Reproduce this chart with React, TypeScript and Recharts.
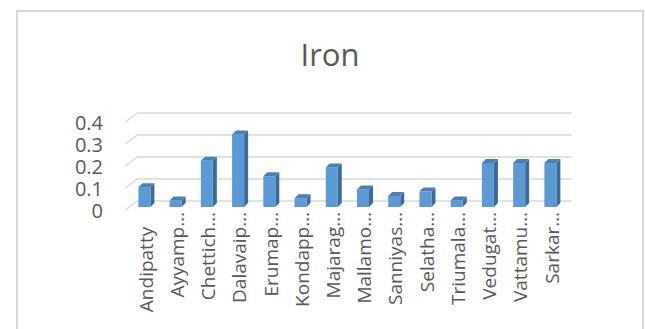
import React from 'react';
import { BarChart, Bar, XAxis, YAxis, CartesianGrid } from 'recharts';

// villages (long names are cut the way the spreadsheet axis shows them)
const villages = [
  'Andipatty\u00a0\u00a0\u00a0',
  'Ayyamp…',
  'Chettich…',
  'Dalavaip…',
  'Erumap…',
  'Kondapp…',
  'Majarag…',
  'Mallamo…',
  'Sanniyas…',
  'Selatha…',
  'Triumala…',
  'Vedugat…',
  'Vattamu…',
  'Sarkar…'
];
const iron = [0.09, 0.03, 0.21, 0.33, 0.14, 0.04, 0.18, 0.08, 0.05, 0.07, 0.03, 0.2, 0.2, 0.2];
const yTicks = [0, 0.1, 0.2, 0.3, 0.4];

const data = villages.map((name, i) => ({ name, iron: iron[i] }));

const FONT = '"Open Sans", sans-serif';
const TEXT = '#595959';
const GRID = '#d9d9d9';
const DEPTH = 4;

// pseudo 3D column: front face, darker side, top cap
const Column3D = (props: any) => {
  const { x, y, width, height } = props;
  const cx = x + width / 2;
  const l = cx - 8;
  const r = cx + 4;
  const top = y - 3;
  const bottom = y + height - 3;
  return (
    <g>
      <polygon
        points={`${r},${top} ${r + DEPTH},${top - DEPTH} ${r + DEPTH},${bottom - DEPTH} ${r},${bottom}`}
        fill="#3e6c99"
      />
      <rect x={l} y={top} width={r - l} height={bottom - top} fill="#5b9bd5" />
      <polygon
        points={`${l},${top} ${r},${top} ${r + DEPTH},${top - DEPTH} ${l + DEPTH},${top - DEPTH}`}
        fill="#4a80b9"
      />
    </g>
  );
};

// gridline on the back wall with a short run along the side wall
const WallLine = (p: any) => (
  <polyline
    key={p.key}
    points={`${p.x1 - 5},${p.y1} ${p.x1 + 7},${p.y1 - 9} ${p.x2 + 4},${p.y1 - 9}`}
    fill="none"
    stroke={GRID}
    strokeWidth={1.5}
  />
);

const YTick = ({ y, payload }: any) => (
  <text x={103} y={y + 1} dy="0.35em" textAnchor="end" fill={TEXT} fontSize={20} fontFamily={FONT}>
    {payload.value}
  </text>
);

const XTick = ({ x, payload }: any) => (
  <text
    x={x}
    y={212}
    dy="0.35em"
    transform={`rotate(-90, ${x}, 212)`}
    textAnchor="end"
    fill={TEXT}
    fontSize={19}
    fontFamily={FONT}
    style={{ whiteSpace: 'pre' }}
  >
    {payload.value}
  </text>
);

export default function App() {
  return (
    <div style={{ position: 'absolute', left: 0, top: 0, width: 645, height: 329, overflow: 'hidden', background: '#fff' }}>
      <div
        style={{
          position: 'absolute',
          left: 16,
          top: 10,
          width: 628,
          height: 340,
          border: `2px solid ${GRID}`,
          boxSizing: 'border-box'
        }}
      />
      <div style={{ position: 'absolute', left: 0, top: 0 }}>
        <BarChart width={645} height={329} data={data} margin={{ top: 122, right: 77.4, bottom: 0, left: 0 }}>
          <text x={330} y={66} textAnchor="middle" fill={TEXT} fontSize={31} fontFamily={FONT}>
            Iron
          </text>
          <CartesianGrid vertical={false} horizontal={WallLine} />
          <XAxis
            dataKey="name"
            height={119}
            interval={0}
            axisLine={false}
            tickLine={false}
            tick={XTick}
          />
          <YAxis
            width={130.4}
            domain={[0, 0.4]}
            ticks={yTicks}
            interval={0}
            axisLine={false}
            tickLine={false}
            tick={YTick}
          />
          <Bar dataKey="iron" barSize={12} shape={Column3D} isAnimationActive={false} />
        </BarChart>
      </div>
    </div>
  );
}
